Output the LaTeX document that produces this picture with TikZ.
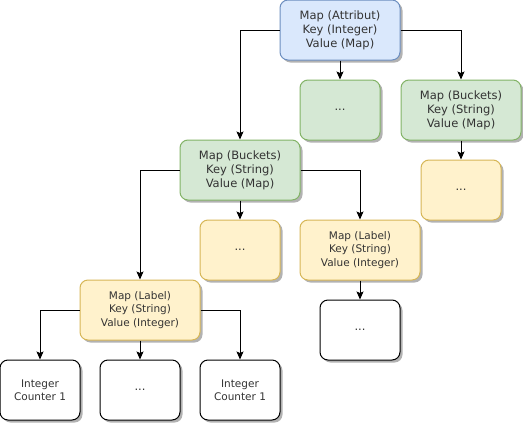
\documentclass[tikz,border=0pt]{standalone}
\usepackage{xcolor}
\usepackage{fontspec}
\setmainfont{DejaVu Sans}
\usepackage{tikz}
\usetikzlibrary{shadows, arrows.meta}

\definecolor{blueFill}{HTML}{DAE8FC}
\definecolor{blueLine}{HTML}{6C8EBF}
\definecolor{greenFill}{HTML}{D5E8D4}
\definecolor{greenLine}{HTML}{82B366}
\definecolor{yellowFill}{HTML}{FFF2CC}
\definecolor{yellowLine}{HTML}{D6B656}

\tikzset{
  box/.style={draw, line width=1pt, rounded corners=8pt, align=center,
    text=black!80, inner sep=0pt,
    drop shadow={shadow xshift=2.5pt, shadow yshift=-2.5pt, opacity=0.3, fill=black},
    font=\fontsize{11.5}{14}\selectfont},
  big/.style={minimum width=120pt, minimum height=60pt},
  small/.style={minimum width=80pt, minimum height=60pt},
  blue/.style={fill=blueFill, draw=blueLine},
  green/.style={fill=greenFill, draw=greenLine},
  yellow/.style={fill=yellowFill, draw=yellowLine},
  white/.style={fill=white, draw=black},
  tiny/.style={font=\fontsize{10.5}{13.5}\selectfont}
}

\begin{document}
\begin{tikzpicture}[x=1pt,y=-1pt]
        \useasboundingbox (0,0) rectangle (523,424);
        \begin{scope}[every node/.style={box}]
          \node[big,blue] (attr) at (340,30) {Map (Attribut)\\Key (Integer)\\Value (Map)};
          \node[small,green] (dotsA) at (340,110) {...};
          \node[big,green] (bktR) at (461,110) {Map (Buckets)\\Key (String)\\Value (Map)};
          \node[small,yellow] (dotsR) at (461,190) {...};
          \node[big,green] (bktL) at (240,170) {Map (Buckets)\\Key (String)\\Value (Map)};
          \node[small,yellow] (dotsL) at (240,250) {...};
          \node[big,yellow,tiny] (lblR) at (360,250) {Map (Label)\\Key (String)\\Value (Integer)};
          \node[small,white] (dotsW) at (360,330) {...};
          \node[big,yellow,tiny] (lblL) at (140,310) {Map (Label)\\Key (String)\\Value (Integer)};
          \node[small,white,tiny] (cntA) at (40,390) {Integer\\Counter 1};
          \node[small,white] (dotsB) at (140,390) {...};
          \node[small,white,tiny] (cntB) at (240,390) {Integer\\Counter 1};
        \end{scope}
        \begin{scope}[line width=1pt, -{Stealth[length=8pt,width=7pt,inset=1.5pt]}]
          \draw (attr.west) -| (bktL.north);
          \draw (attr.south) -- (dotsA.north);
          \draw (attr.east) -| (bktR.north);
          \draw (bktR.south) -- (dotsR.north);
          \draw (bktL.west) -| (lblL.north);
          \draw (bktL.south) -- (dotsL.north);
          \draw (bktL.east) -| (lblR.north);
          \draw (lblR.south) -- (dotsW.north);
          \draw (lblL.west) -| (cntA.north);
          \draw (lblL.south) -- (dotsB.north);
          \draw (lblL.east) -| (cntB.north);
        \end{scope}
      \end{tikzpicture}
\end{document}
